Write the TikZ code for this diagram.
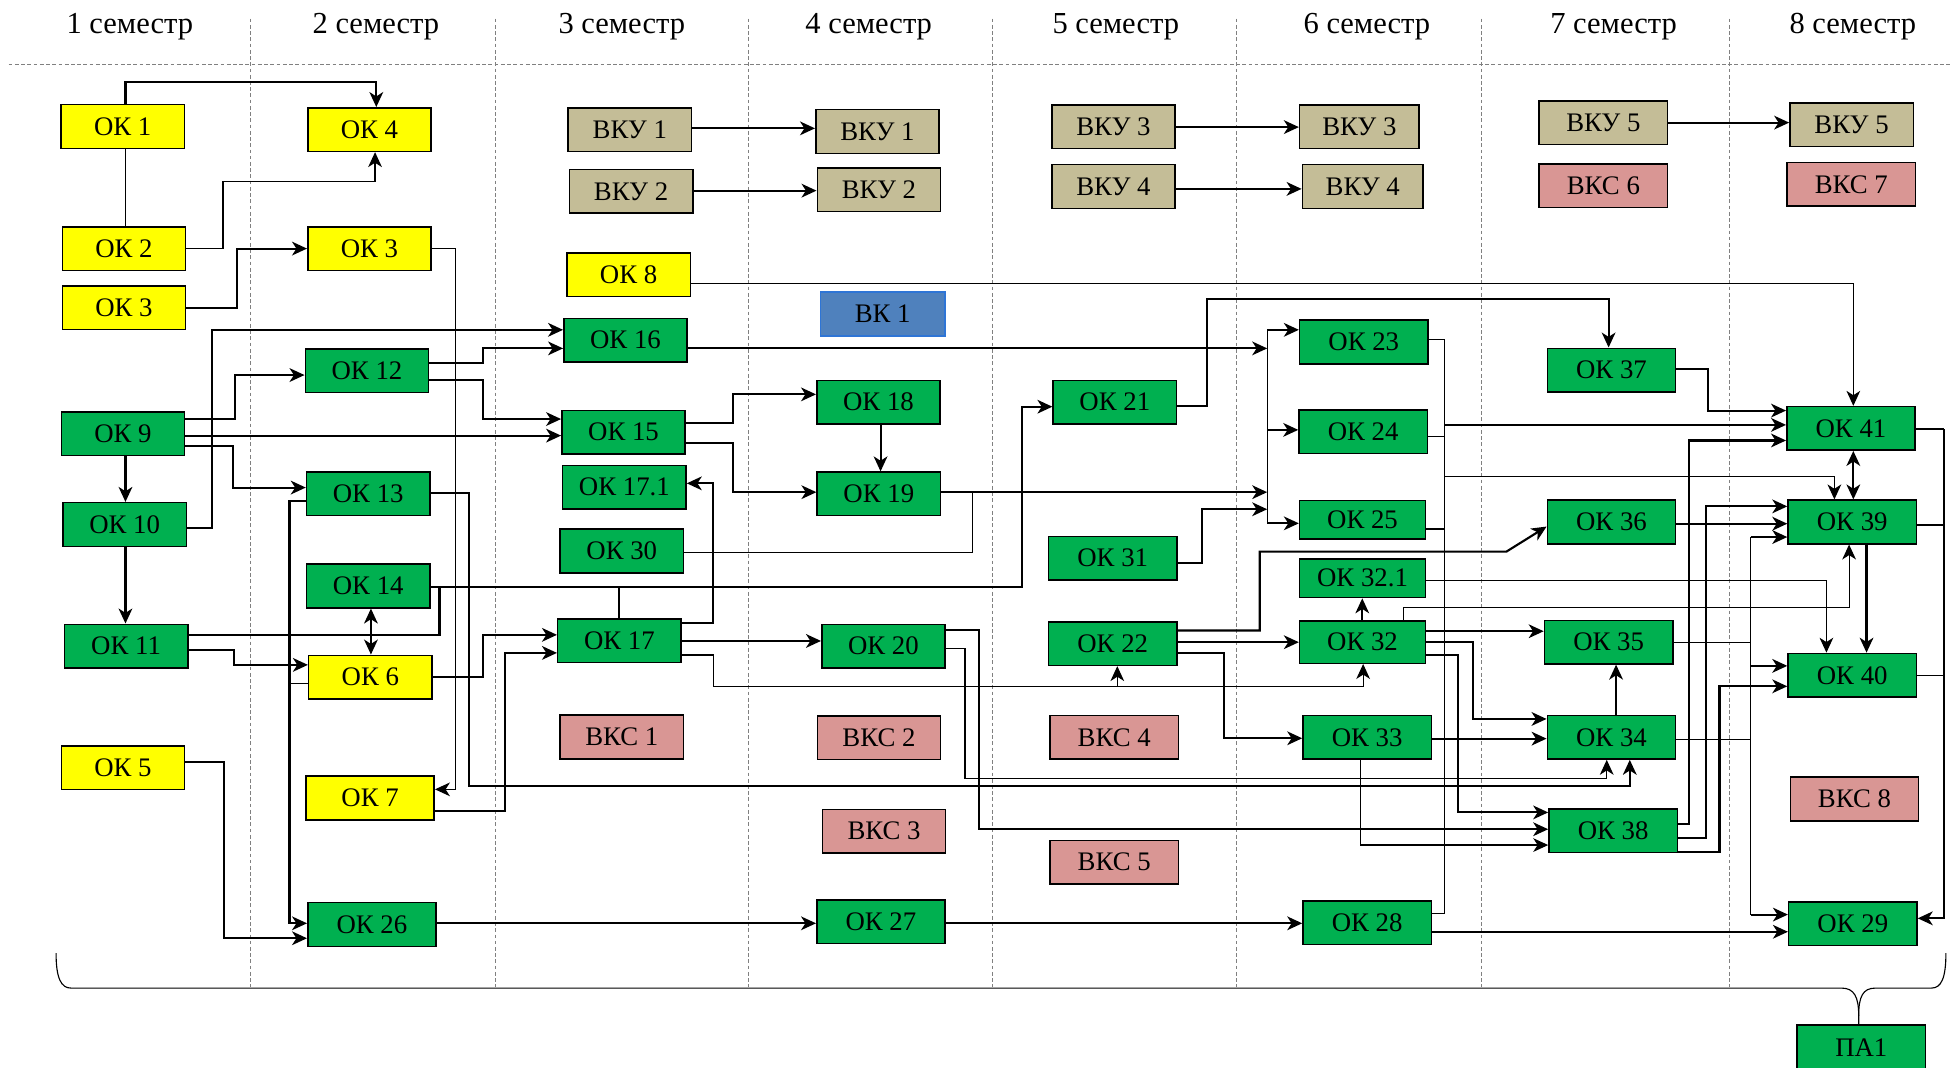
\documentclass[tikz,border=0pt]{standalone}
\usepackage{fontspec}
\setmainfont{Liberation Serif}
\usetikzlibrary{arrows.meta}
\definecolor{okgreen}{HTML}{00B050}
\definecolor{okyellow}{HTML}{FFFF00}
\definecolor{vkutan}{HTML}{C4BD97}
\definecolor{vkspink}{HTML}{D99694}
\definecolor{vkblue}{HTML}{4F81BD}
\definecolor{vkedge}{HTML}{2E75D6}
\begin{document}
\begin{tikzpicture}[x=1pt, y=-1pt, >={Stealth[length=12pt,width=11pt,inset=3.5pt]},
    box/.style={draw, line width=1.2pt, minimum width=99pt, minimum height=35pt, inner sep=0pt, font=\fontsize{21.5}{24}\selectfont},
    ok/.style={box, fill=okgreen}, oky/.style={box, fill=okyellow},
    vku/.style={box, fill=vkutan}, vks/.style={box, fill=vkspink},
    wide/.style={minimum width=103pt}, low/.style={minimum height=31pt},
    sem/.style={anchor=base, font=\fontsize{24.5}{28}\selectfont},
    semline/.style={gray, line width=0.5pt, dash pattern=on 3pt off 2pt},
    bold/.style={line width=1.7pt}, fine/.style={line width=0.9pt}]
            \useasboundingbox (0,0) rectangle (1565,857);

            \node[sem] (S1) at (104.2,26.7) {1 семестр};
            \node[sem] (S2) at (301.7,26.7) {2 семестр};
            \node[sem] (S3) at (499,26.7) {3 семестр};
            \node[sem] (S4) at (697.2,26.7) {4 семестр};
            \node[sem] (S5) at (895.5,26.7) {5 семестр};
            \node[sem] (S6) at (1097,26.7) {6 семестр};
            \node[sem] (S7) at (1295,26.7) {7 семестр};
            \node[sem] (S8) at (1487,26.7) {8 семестр};
            \draw[semline] (7,52) -- (1565,52);
            \draw[semline] (200.5,15) -- (200.5,792); \draw[semline] (397.7,15) -- (397.7,792); \draw[semline] (600.7,15) -- (600.7,792);
            \draw[semline] (796,15) -- (796,792); \draw[semline] (992,15) -- (992,792); \draw[semline] (1188.5,15) -- (1188.5,792); \draw[semline] (1388,15) -- (1388,792);

            \node[oky] (OK1) at (98.5,101.5) {ОК 1};
            \node[oky] (OK2) at (99.5,199.5) {ОК 2};
            \node[oky] (OK3) at (99.5,247) {ОК 3};
            \node[ok] (OK9) at (98.7,348.2) {ОК 9};
            \node[ok] (OK10) at (100,420.9) {ОК 10};
            \node[ok] (OK11) at (101.2,518.5) {ОК 11};
            \node[oky] (OK5) at (98.7,616.2) {ОК 5};

            \node[oky] (OK4) at (296.5,104) {ОК 4};
            \node[oky] (OK3b) at (296.5,199.5) {ОК 3};
            \node[ok] (OK12) at (294.5,297.4) {ОК 12};
            \node[ok] (OK13) at (295.5,396.3) {ОК 13};
            \node[ok] (OK14) at (295.5,470.3) {ОК 14};
            \node[oky] (OK6) at (297.2,543.4) {ОК 6};
            \node[oky,wide] (OK7) at (297,640.4) {ОК 7};
            \node[ok,wide] (OK26) at (298.5,742) {ОК 26};

            \node[vku] (VKU1) at (505.5,104) {ВКУ 1};
            \node[vku] (VKU2) at (506.5,153.5) {ВКУ 2};
            \node[oky] (OK8) at (504.5,220.5) {ОК 8};
            \node[ok] (OK16) at (502,273) {ОК 16};
            \node[ok] (OK15) at (500.4,346.8) {ОК 15};
            \node[ok] (OK171) at (501.1,391) {ОК 17.1};
            \node[ok] (OK30) at (499,442.2) {ОК 30};
            \node[ok] (OK17) at (497.1,514.3) {ОК 17};
            \node[vks] (VKS1) at (499,591.5) {ВКС 1};

            \node[vku] (VKU1b) at (704.2,105.5) {ВКУ 1};
            \node[vku] (VKU2b) at (705.4,152.4) {ВКУ 2};
            \node[box, fill=vkblue, draw=vkedge, minimum width=100pt] (VK1) at (708.4,252) {ВК 1};
            \node[ok] (OK18) at (705,322.8) {ОК 18};
            \node[ok] (OK19) at (705.3,396.4) {ОК 19};
            \node[ok] (OK20) at (709,518.6) {ОК 20};
            \node[vks] (VKS2) at (705.4,592.2) {ВКС 2};
            \node[vks] (VKS3) at (709.5,667) {ВКС 3};
            \node[ok,wide] (OK27) at (707,739.8) {ОК 27};

            \node[vku] (VKU3) at (893.6,101.6) {ВКУ 3};
            \node[vku] (VKU4) at (893.6,149.7) {ВКУ 4};
            \node[ok] (OK21) at (894.7,322.8) {ОК 21};
            \node[ok,wide] (OK31) at (893,448) {ОК 31};
            \node[ok,wide] (OK22) at (893,516.5) {ОК 22};
            \node[vks,wide] (VKS4) at (894.2,591.7) {ВКС 4};
            \node[vks,wide] (VKS5) at (894.2,692) {ВКС 5};

            \node[vku,minimum width=96pt] (VKU3b) at (1091,101.6) {ВКУ 3};
            \node[vku,minimum width=97pt] (VKU4b) at (1093.7,149.7) {ВКУ 4};
            \node[ok,wide] (OK23) at (1094.5,274.5) {ОК 23};
            \node[ok,wide] (OK24) at (1094,346.5) {ОК 24};
            \node[ok,low,minimum width=101pt] (OK25) at (1093.5,417) {ОК 25};
            \node[ok,low,minimum width=101pt] (OK321) at (1093.5,464.1) {ОК 32.1};
            \node[ok,minimum width=101pt,minimum height=34pt] (OK32) at (1093.5,515.3) {ОК 32};
            \node[ok,wide] (OK33) at (1097.2,591.8) {ОК 33};
            \node[ok,wide] (OK28) at (1097.2,740.4) {ОК 28};

            \node[vku,wide] (VKU5) at (1286.8,98.4) {ВКУ 5};
            \node[vks,wide] (VKS6) at (1286.8,149.2) {ВКС 6};
            \node[ok,wide] (OK37) at (1293.3,297) {ОК 37};
            \node[ok,wide] (OK36) at (1293.3,418.9) {ОК 36};
            \node[ok,wide] (OK35) at (1291,515.3) {ОК 35};
            \node[ok,wide] (OK34) at (1293.3,591.7) {ОК 34};
            \node[ok,wide] (OK38) at (1294.6,666.6) {ОК 38};

            \node[vku] (VKU5b) at (1486,100) {ВКУ 5};
            \node[vks,wide] (VKS7) at (1485.8,147.9) {ВКС 7};
            \node[ok,wide] (OK41) at (1485.5,343.8) {ОК 41};
            \node[ok,wide] (OK39) at (1486.5,418.9) {ОК 39};
            \node[ok,wide] (OK40) at (1486.5,541.9) {ОК 40};
            \node[vks,wide] (VKS8) at (1488.3,641.2) {ВКС 8};
            \node[ok,wide] (OK29) at (1487,741.5) {ОК 29};
            \node[ok,wide,minimum height=36pt] (PA1) at (1493.8,840.5) {ПА1};

            \coordinate (j14) at (352.7,471.3);
            \coordinate (bus6) at (1017,264.7);
            \coordinate (bus7) at (1159.3,272.7);
            \coordinate (bus8) at (1405,431);
            \coordinate (busR) at (1560,344.3);

            \draw[bold,->] (OK1.north -| 100.7,0) |- (302,65.5) -- (OK4.north -| 302,0); \draw[fine] (OK1.south -| 100.7,0) -- (OK2.north -| 100.7,0);
            \draw[fine,->] (OK2.east) -| (179,146) -| (OK4.south -| 301,0); \draw[bold,->] (OK3.east) -| (190,199.5) -- (OK3b.west);
            \draw[fine,->] (OK3b.east) -| (365.5,633.5) -- (OK7.east |- 0,633.5);
            \draw[bold,->] (OK10.east |- 0,424) -| (170,264.7) -- (OK16.west |- 0,264.7); \draw[bold,->] (OK9.east |- 0,336.3) -| (188.3,301) -- (OK12.west |- 0,301);
            \draw[bold,->] (OK9.east |- 0,349.6) -- (OK15.west |- 0,349.6); \draw[bold,->] (OK9.east |- 0,357.7) -| (186.7,391.3) -- (OK13.west |- 0,391.3);
            \draw[bold,->] (OK9.south -| 100.7,0) -- (OK10.north -| 100.7,0); \draw[bold,->] (OK10.south -| 100.7,0) -- (OK11.north -| 100.7,0);
            \draw[bold,->] (OK11.east |- 0,521.6) -| (187.7,533.6) -- (OK6.west |- 0,533.6); \draw[bold] (OK11.east |- 0,509.5) -| (j14);
            \draw[bold,->] (OK12.east |- 0,291.6) -| (387.3,279.6) -- (OK16.west |- 0,279.6); \draw[bold,->] (OK12.east |- 0,305) -| (387.3,336.3) -- (OK15.west |- 0,336.3);
            \draw[bold,->] (OK13.west |- 0,402) -| (232.3,741) -- (OK26.west |- 0,741); \draw[fine] (OK6.west |- 0,548.3) -- (232.3,548.3);
            \draw[bold,->] (OK13.east |- 0,395.4) -| (376.7,630.8) -| (OK34.south -| 1308,0);
            \draw[bold,->] (OK14.east |- j14) -| (820,326.4) -- (OK21.west |- 0,326.4); \draw[bold,<->] (OK14.south -| 297.7,0) -- (OK6.north -| 297.7,0);
            \draw[bold,->] (OK6.east |- 0,543) -| (387.3,509.5) -- (OK17.west |- 0,509.5); \draw[bold,->] (OK7.east |- 0,650.8) -| (405,524) -- (OK17.west |- 0,524);
            \draw[bold,->] (OK5.east |- 0,611.3) -| (180,753) -- (OK26.west |- 0,753);
            \draw[bold,->] (OK26.east |- 0,741) -- (OK27.west |- 0,741); \draw[bold,->] (OK27.east |- 0,741) -- (OK28.west |- 0,741);

            \draw[bold,->] (VKU1.east |- 0,103) -- (VKU1b.west |- 0,103); \draw[bold,->] (VKU2.east |- 0,153) -- (VKU2b.west |- 0,153);
            \draw[fine,->] (OK8.east |- 0,227.8) -| (OK41.north -| 1487.4,0);
            \draw[bold,->] (OK16.east |- 0,279.6) -- (bus6 |- 0,279.6);
            \draw[bold,->] (OK15.east |- 0,339.2) -| (588.5,316.5) -- (OK18.west |- 0,316.5); \draw[bold,->] (OK15.east |- 0,355.8) -| (588.5,395) -- (OK19.west |- 0,395);
            \draw[bold,->] (OK18.south -| 706.7,0) -- (OK19.north -| 706.7,0); \draw[bold,->] (OK19.east |- 0,395) -- (bus6 |- 0,395);
            \draw[fine] (OK30.east |- 0,443.3) -| (780.6,395);
            \draw[bold,->] (OK17.east |- 0,500.3) -| (572,387.9) -- (OK171.east |- 0,387.9); \draw[bold] (OK17.north -| 496.8,0) -- (j14 -| 496.8,0);
            \draw[bold,->] (OK17.east |- 0,514.4) -- (OK20.west |- 0,514.4);
            \draw[fine,->] (OK17.east |- 0,525.7) -| (572.5,550.6) -| (OK22.south -| 896.7,0); \draw[fine,->] (896.7,550.6) -| (OK32.south -| 1094,0);
            \draw[bold,->] (OK20.east |- 0,505.6) -| (785.7,665.5) -- (OK38.west |- 0,665.5);
            \draw[fine,->] (OK20.east |- 0,520.3) -| (774.5,624.7) -| (OK34.south -| 1289.5,0);

            \draw[bold,->] (VKU3.east |- 0,102) -- (VKU3b.west |- 0,102); \draw[bold,->] (VKU4.east |- 0,151.6) -- (VKU4b.west |- 0,151.6);
            \draw[bold,->] (OK21.east |- 0,325.6) -| (969,240) -| (OK37.north -| 1291,0);
            \draw[bold,->] (OK31.east |- 0,452) -| (965,408.7) -- (bus6 |- 0,408.7);
            \draw[bold,->] (OK22.east |- 0,506) -| (1011,442.7) -- (1209,442.7) -- (OK36.west |- 0,422.6);
            \draw[bold,->] (OK22.east |- 0,515.4) -- (OK32.west |- 0,515.4); \draw[bold,->] (OK22.east |- 0,524.2) -| (982.4,592.5) -- (OK33.west |- 0,592.5);
            \draw[fine] (bus6) -- (bus6 |- 0,420); \draw[bold,->] (bus6) -- (OK23.west |- bus6);
            \draw[bold,->] (bus6 |- 0,345) -- (OK24.west |- 0,345); \draw[bold,->] (bus6 |- 0,420) -- (OK25.west |- 0,420);

            \draw[fine] (OK23.east |- bus7) -- (bus7) -- (bus7 |- 0,733) -- (OK28.east |- 0,733);
            \draw[fine] (OK24.east |- 0,350.4) -- (bus7 |- 0,350.4); \draw[fine] (OK25.east |- 0,424.5) -- (bus7 |- 0,424.5);
            \draw[bold,->] (bus7 |- 0,341) -- (OK41.west |- 0,341); \draw[fine,->] (bus7 |- 0,382.5) -| (OK39.north -| 1472.2,0);
            \draw[bold,->] (OK32.north -| 1093.3,0) -- (OK321.south -| 1093.3,0); \draw[fine,->] (OK321.east |- 0,465.6) -| (OK40.north -| 1465.8,0);
            \draw[fine,->] (OK32.north -| 1126.3,0) |- (1484,487.2) -- (OK39.south -| 1484,0);
            \draw[bold,->] (OK32.east |- 0,506.6) -- (OK35.west |- 0,506.6); \draw[bold,->] (OK32.east |- 0,515) -| (1182.3,577) -- (OK34.west |- 0,577);
            \draw[bold,->] (OK32.east |- 0,525.7) -| (1170,652) -- (OK38.west |- 0,652);
            \draw[bold,->] (OK33.east |- 0,592.8) -- (OK34.west |- 0,592.8); \draw[fine,->] (OK33.south -| 1091.6,0) |- (OK38.west |- 0,678.2);

            \draw[bold,->] (VKU5.east |- 0,98.4) -- (VKU5b.west |- 0,98.4);
            \draw[bold,->] (OK37.east |- 0,296.4) -| (1370.5,329.5) -- (OK41.west |- 0,329.5); \draw[bold,->] (OK36.east |- 0,420.3) -- (OK39.west |- 0,420.3);
            \draw[bold,->] (OK34.north -| 1297,0) -- (OK35.south -| 1297,0);
            \draw[bold,->] (OK38.east |- 0,661) -| (1355.5,353.5) -- (OK41.west |- 0,353.5); \draw[bold,->] (OK38.east |- 0,672.3) -| (1369,406.4) -- (OK39.west |- 0,406.4);
            \draw[bold,->] (OK38.east |- 0,683.6) -| (1380,550.8) -- (OK40.west |- 0,550.8);
            \draw[fine] (OK35.east |- 0,515.5) -- (bus8 |- 0,515.5); \draw[fine] (OK34.east |- 0,593.2) -- (bus8 |- 0,593.2); \draw[fine] (bus8) -- (bus8 |- 0,734);
            \draw[bold,->] (bus8) -- (OK39.west |- bus8); \draw[bold,->] (bus8 |- 0,534.4) -- (OK40.west |- 0,534.4); \draw[bold,->] (bus8 |- 0,734) -- (OK29.west |- 0,734);

            \draw[bold,<->] (OK41.south -| 1487.4,0) -- (OK39.north -| 1487.4,0); \draw[bold,->] (OK39.south -| 1498,0) -- (OK40.north -| 1498,0);
            \draw[bold,->] (OK28.east |- 0,747.8) -- (OK29.west |- 0,747.8);
            \draw[fine] (OK41.east |- busR) -- (busR); \draw[fine] (OK39.east |- 0,421.3) -- (busR |- 0,421.3); \draw[fine] (OK40.east |- 0,542.3) -- (busR |- 0,542.3);
            \draw[bold,->] (busR) |- (OK29.east |- 0,737);

            \draw[line width=0.9pt] (45,765) .. controls (45,785) and (49,793) .. (57,793) -- (1478,793) .. controls (1488,793) and (1491.7,800) .. (1491.7,815) -- (PA1.north -| 1491.7,0);
            \draw[line width=0.9pt] (1491.7,815) .. controls (1491.7,800) and (1495,793) .. (1505,793) -- (1550,793) .. controls (1558,793) and (1561.7,785) .. (1561.7,765);
        \end{tikzpicture}
\end{document}
